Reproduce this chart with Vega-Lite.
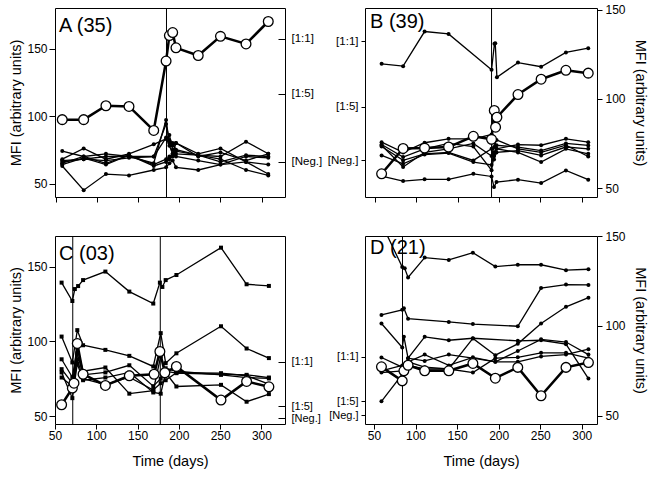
{
  "$schema": "https://vega.github.io/schema/vega-lite/v6.json",
  "background": "white",
  "padding": {"left": 8, "top": 3, "right": 2, "bottom": 2},
  "bounds": "flush",
  "columns": 2,
  "spacing": {"row": 39, "column": 80},
  "config": {
    "font": "Liberation Sans",
    "view": {"stroke": "black", "strokeWidth": 1},
    "axis": {"grid": false, "domain": false, "labelFont": "Liberation Sans", "labelFontSize": 12, "labelColor": "black", "tickColor": "black", "tickWidth": 1, "titleFont": "Liberation Sans", "titleFontSize": 14.5, "titleFontWeight": "normal", "titleColor": "black", "labelFlush": false, "labelOverlap": false, "labelBound": false},
    "title": {"font": "Liberation Sans", "fontSize": 20, "fontWeight": "normal", "color": "black", "anchor": "start", "frame": "group", "offset": -28, "baseline": "alphabetic"}
  },
  "datasets": {
    "boosts": [
      {"panel": "A", "day": 184.5},
      {"panel": "B", "day": 191},
      {"panel": "C", "day": 71.5},
      {"panel": "C", "day": 177.5},
      {"panel": "D", "day": 84.3}
    ],
    "levels": [
      {"panel": "A", "level": "[1:1]", "mfi": 157.4},
      {"panel": "A", "level": "[1:5]", "mfi": 116.3},
      {"panel": "A", "level": "[Neg.]", "mfi": 66.2},
      {"panel": "B", "level": "[1:1]", "mfi": 132.3},
      {"panel": "B", "level": "[1:5]", "mfi": 95.7},
      {"panel": "B", "level": "[Neg.]", "mfi": 65.5},
      {"panel": "C", "level": "[1:1]", "mfi": 86.3},
      {"panel": "C", "level": "[1:5]", "mfi": 56.5},
      {"panel": "C", "level": "[Neg.]", "mfi": 48.4},
      {"panel": "D", "level": "[1:1]", "mfi": 82.8},
      {"panel": "D", "level": "[1:5]", "mfi": 58.1},
      {"panel": "D", "level": "[Neg.]", "mfi": 50.4}
    ],
    "series": [
      {"panel":"A","id":"a1","kind":"dot","day":58,"mfi":74},{"panel":"A","id":"a1","kind":"dot","day":84,"mfi":70},{"panel":"A","id":"a1","kind":"dot","day":111,"mfi":72},{"panel":"A","id":"a1","kind":"dot","day":139,"mfi":70},{"panel":"A","id":"a1","kind":"dot","day":169,"mfi":65},{"panel":"A","id":"a1","kind":"dot","day":184,"mfi":97},{"panel":"A","id":"a1","kind":"dot","day":188,"mfi":80},{"panel":"A","id":"a1","kind":"dot","day":192,"mfi":78},{"panel":"A","id":"a1","kind":"dot","day":196,"mfi":80},{"panel":"A","id":"a1","kind":"dot","day":223,"mfi":72},{"panel":"A","id":"a1","kind":"dot","day":250,"mfi":76},{"panel":"A","id":"a1","kind":"dot","day":281,"mfi":66},{"panel":"A","id":"a1","kind":"dot","day":308,"mfi":57},
      {"panel":"A","id":"a2","kind":"dot","day":58,"mfi":68},{"panel":"A","id":"a2","kind":"dot","day":84,"mfi":76},{"panel":"A","id":"a2","kind":"dot","day":111,"mfi":68},{"panel":"A","id":"a2","kind":"dot","day":139,"mfi":72},{"panel":"A","id":"a2","kind":"dot","day":169,"mfi":79},{"panel":"A","id":"a2","kind":"dot","day":184,"mfi":83},{"panel":"A","id":"a2","kind":"dot","day":188,"mfi":86},{"panel":"A","id":"a2","kind":"dot","day":192,"mfi":75},{"panel":"A","id":"a2","kind":"dot","day":196,"mfi":72},{"panel":"A","id":"a2","kind":"dot","day":223,"mfi":71},{"panel":"A","id":"a2","kind":"dot","day":250,"mfi":70},{"panel":"A","id":"a2","kind":"dot","day":281,"mfi":81},{"panel":"A","id":"a2","kind":"dot","day":308,"mfi":72},
      {"panel":"A","id":"a3","kind":"dot","day":58,"mfi":67},{"panel":"A","id":"a3","kind":"dot","day":84,"mfi":68},{"panel":"A","id":"a3","kind":"dot","day":111,"mfi":67},{"panel":"A","id":"a3","kind":"dot","day":139,"mfi":69},{"panel":"A","id":"a3","kind":"dot","day":169,"mfi":70},{"panel":"A","id":"a3","kind":"dot","day":184,"mfi":94},{"panel":"A","id":"a3","kind":"dot","day":188,"mfi":82},{"panel":"A","id":"a3","kind":"dot","day":192,"mfi":80},{"panel":"A","id":"a3","kind":"dot","day":196,"mfi":75},{"panel":"A","id":"a3","kind":"dot","day":223,"mfi":71},{"panel":"A","id":"a3","kind":"dot","day":250,"mfi":66},{"panel":"A","id":"a3","kind":"dot","day":281,"mfi":71},{"panel":"A","id":"a3","kind":"dot","day":308,"mfi":70},
      {"panel":"A","id":"a4","kind":"dot","day":58,"mfi":65},{"panel":"A","id":"a4","kind":"dot","day":84,"mfi":70},{"panel":"A","id":"a4","kind":"dot","day":111,"mfi":65},{"panel":"A","id":"a4","kind":"dot","day":139,"mfi":71},{"panel":"A","id":"a4","kind":"dot","day":169,"mfi":64},{"panel":"A","id":"a4","kind":"dot","day":184,"mfi":68},{"panel":"A","id":"a4","kind":"dot","day":188,"mfi":70},{"panel":"A","id":"a4","kind":"dot","day":192,"mfi":72},{"panel":"A","id":"a4","kind":"dot","day":196,"mfi":70},{"panel":"A","id":"a4","kind":"dot","day":223,"mfi":67},{"panel":"A","id":"a4","kind":"dot","day":250,"mfi":64},{"panel":"A","id":"a4","kind":"dot","day":281,"mfi":70},{"panel":"A","id":"a4","kind":"dot","day":308,"mfi":69},
      {"panel":"A","id":"a5","kind":"dot","day":58,"mfi":64},{"panel":"A","id":"a5","kind":"dot","day":84,"mfi":69},{"panel":"A","id":"a5","kind":"dot","day":111,"mfi":64},{"panel":"A","id":"a5","kind":"dot","day":139,"mfi":71},{"panel":"A","id":"a5","kind":"dot","day":169,"mfi":63},{"panel":"A","id":"a5","kind":"dot","day":184,"mfi":66},{"panel":"A","id":"a5","kind":"dot","day":188,"mfi":68},{"panel":"A","id":"a5","kind":"dot","day":192,"mfi":70},{"panel":"A","id":"a5","kind":"dot","day":196,"mfi":74},{"panel":"A","id":"a5","kind":"dot","day":223,"mfi":71},{"panel":"A","id":"a5","kind":"dot","day":250,"mfi":68},{"panel":"A","id":"a5","kind":"dot","day":281,"mfi":60},{"panel":"A","id":"a5","kind":"dot","day":308,"mfi":56},
      {"panel":"A","id":"a6","kind":"dot","day":58,"mfi":63},{"panel":"A","id":"a6","kind":"dot","day":84,"mfi":45},{"panel":"A","id":"a6","kind":"dot","day":111,"mfi":57},{"panel":"A","id":"a6","kind":"dot","day":139,"mfi":56},{"panel":"A","id":"a6","kind":"dot","day":169,"mfi":60},{"panel":"A","id":"a6","kind":"dot","day":184,"mfi":62},{"panel":"A","id":"a6","kind":"dot","day":188,"mfi":65},{"panel":"A","id":"a6","kind":"dot","day":192,"mfi":67},{"panel":"A","id":"a6","kind":"dot","day":196,"mfi":62},{"panel":"A","id":"a6","kind":"dot","day":223,"mfi":60},{"panel":"A","id":"a6","kind":"dot","day":250,"mfi":64},{"panel":"A","id":"a6","kind":"dot","day":281,"mfi":66},{"panel":"A","id":"a6","kind":"dot","day":308,"mfi":64},
      {"panel":"A","id":"a7","kind":"dot","day":58,"mfi":66},{"panel":"A","id":"a7","kind":"dot","day":84,"mfi":68},{"panel":"A","id":"a7","kind":"dot","day":111,"mfi":70},{"panel":"A","id":"a7","kind":"dot","day":139,"mfi":70},{"panel":"A","id":"a7","kind":"dot","day":169,"mfi":70},{"panel":"A","id":"a7","kind":"dot","day":184,"mfi":84},{"panel":"A","id":"a7","kind":"dot","day":188,"mfi":78},{"panel":"A","id":"a7","kind":"dot","day":192,"mfi":72},{"panel":"A","id":"a7","kind":"dot","day":196,"mfi":80},{"panel":"A","id":"a7","kind":"dot","day":223,"mfi":70},{"panel":"A","id":"a7","kind":"dot","day":250,"mfi":73},{"panel":"A","id":"a7","kind":"dot","day":281,"mfi":67},{"panel":"A","id":"a7","kind":"dot","day":308,"mfi":72},
      {"panel":"A","id":"aM","kind":"circle","day":58,"mfi":97.3},{"panel":"A","id":"aM","kind":"circle","day":84,"mfi":97.3},{"panel":"A","id":"aM","kind":"circle","day":111,"mfi":107.6},{"panel":"A","id":"aM","kind":"circle","day":139,"mfi":107.1},{"panel":"A","id":"aM","kind":"circle","day":169,"mfi":89.3},{"panel":"A","id":"aM","kind":"circle","day":184,"mfi":140.7},{"panel":"A","id":"aM","kind":"circle","day":188,"mfi":159.6},{"panel":"A","id":"aM","kind":"circle","day":192,"mfi":161.8},{"panel":"A","id":"aM","kind":"circle","day":196,"mfi":150.5},{"panel":"A","id":"aM","kind":"circle","day":223,"mfi":144.8},{"panel":"A","id":"aM","kind":"circle","day":250,"mfi":159},{"panel":"A","id":"aM","kind":"circle","day":281,"mfi":153.4},{"panel":"A","id":"aM","kind":"circle","day":308,"mfi":170},

      {"panel":"B","id":"b1","kind":"dot","day":58,"mfi":119.6},{"panel":"B","id":"b1","kind":"dot","day":84,"mfi":118.3},{"panel":"B","id":"b1","kind":"dot","day":110,"mfi":137.7},{"panel":"B","id":"b1","kind":"dot","day":139,"mfi":136.4},{"panel":"B","id":"b1","kind":"dot","day":191,"mfi":116.3},{"panel":"B","id":"b1","kind":"dot","day":194.5,"mfi":130.8},{"panel":"B","id":"b1","kind":"dot","day":195.5,"mfi":131.1},{"panel":"B","id":"b1","kind":"dot","day":197.5,"mfi":112.1},{"panel":"B","id":"b1","kind":"dot","day":223,"mfi":120.3},{"panel":"B","id":"b1","kind":"dot","day":251,"mfi":118},{"panel":"B","id":"b1","kind":"dot","day":281,"mfi":126},{"panel":"B","id":"b1","kind":"dot","day":308,"mfi":128.4},
      {"panel":"B","id":"b2","kind":"dot","day":58,"mfi":56.7},{"panel":"B","id":"b2","kind":"dot","day":84,"mfi":53.9},{"panel":"B","id":"b2","kind":"dot","day":110,"mfi":54.9},{"panel":"B","id":"b2","kind":"dot","day":139,"mfi":54.9},{"panel":"B","id":"b2","kind":"dot","day":169,"mfi":58},{"panel":"B","id":"b2","kind":"dot","day":191,"mfi":56.5},{"panel":"B","id":"b2","kind":"dot","day":194,"mfi":50.6},{"panel":"B","id":"b2","kind":"dot","day":197,"mfi":53.4},{"panel":"B","id":"b2","kind":"dot","day":223,"mfi":54.7},{"panel":"B","id":"b2","kind":"dot","day":251,"mfi":52.8},{"panel":"B","id":"b2","kind":"dot","day":281,"mfi":59.9},{"panel":"B","id":"b2","kind":"dot","day":308,"mfi":54.7},
      {"panel":"B","id":"b3","kind":"dot","day":58,"mfi":75.7},{"panel":"B","id":"b3","kind":"dot","day":84,"mfi":70},{"panel":"B","id":"b3","kind":"dot","day":110,"mfi":75.4},{"panel":"B","id":"b3","kind":"dot","day":139,"mfi":77.6},{"panel":"B","id":"b3","kind":"dot","day":169,"mfi":77.6},{"panel":"B","id":"b3","kind":"dot","day":191,"mfi":80},{"panel":"B","id":"b3","kind":"dot","day":194,"mfi":76},{"panel":"B","id":"b3","kind":"dot","day":197,"mfi":72},{"panel":"B","id":"b3","kind":"dot","day":223,"mfi":74.4},{"panel":"B","id":"b3","kind":"dot","day":251,"mfi":74},{"panel":"B","id":"b3","kind":"dot","day":281,"mfi":77.6},{"panel":"B","id":"b3","kind":"dot","day":308,"mfi":75.7},
      {"panel":"B","id":"b4","kind":"dot","day":58,"mfi":74.4},{"panel":"B","id":"b4","kind":"dot","day":84,"mfi":67.4},{"panel":"B","id":"b4","kind":"dot","day":110,"mfi":72},{"panel":"B","id":"b4","kind":"dot","day":139,"mfi":75},{"panel":"B","id":"b4","kind":"dot","day":169,"mfi":73.3},{"panel":"B","id":"b4","kind":"dot","day":191,"mfi":60},{"panel":"B","id":"b4","kind":"dot","day":194,"mfi":68},{"panel":"B","id":"b4","kind":"dot","day":197,"mfi":74},{"panel":"B","id":"b4","kind":"dot","day":223,"mfi":73},{"panel":"B","id":"b4","kind":"dot","day":251,"mfi":71},{"panel":"B","id":"b4","kind":"dot","day":281,"mfi":75},{"panel":"B","id":"b4","kind":"dot","day":308,"mfi":73.9},
      {"panel":"B","id":"b5","kind":"dot","day":58,"mfi":73.3},{"panel":"B","id":"b5","kind":"dot","day":84,"mfi":65.5},{"panel":"B","id":"b5","kind":"dot","day":110,"mfi":69.2},{"panel":"B","id":"b5","kind":"dot","day":139,"mfi":70},{"panel":"B","id":"b5","kind":"dot","day":169,"mfi":65.5},{"panel":"B","id":"b5","kind":"dot","day":191,"mfi":72},{"panel":"B","id":"b5","kind":"dot","day":194,"mfi":66},{"panel":"B","id":"b5","kind":"dot","day":197,"mfi":70},{"panel":"B","id":"b5","kind":"dot","day":223,"mfi":71},{"panel":"B","id":"b5","kind":"dot","day":251,"mfi":68.3},{"panel":"B","id":"b5","kind":"dot","day":281,"mfi":73},{"panel":"B","id":"b5","kind":"dot","day":308,"mfi":72},
      {"panel":"B","id":"b6","kind":"dot","day":58,"mfi":68.3},{"panel":"B","id":"b6","kind":"dot","day":84,"mfi":63.6},{"panel":"B","id":"b6","kind":"dot","day":110,"mfi":68.8},{"panel":"B","id":"b6","kind":"dot","day":139,"mfi":69.6},{"panel":"B","id":"b6","kind":"dot","day":169,"mfi":64.6},{"panel":"B","id":"b6","kind":"dot","day":191,"mfi":63},{"panel":"B","id":"b6","kind":"dot","day":194,"mfi":70},{"panel":"B","id":"b6","kind":"dot","day":197,"mfi":72},{"panel":"B","id":"b6","kind":"dot","day":223,"mfi":70},{"panel":"B","id":"b6","kind":"dot","day":251,"mfi":64.6},{"panel":"B","id":"b6","kind":"dot","day":281,"mfi":72},{"panel":"B","id":"b6","kind":"dot","day":308,"mfi":69.2},
      {"panel":"B","id":"b7","kind":"dot","day":58,"mfi":74},{"panel":"B","id":"b7","kind":"dot","day":84,"mfi":61.8},{"panel":"B","id":"b7","kind":"dot","day":110,"mfi":70},{"panel":"B","id":"b7","kind":"dot","day":139,"mfi":72},{"panel":"B","id":"b7","kind":"dot","day":169,"mfi":75},{"panel":"B","id":"b7","kind":"dot","day":191,"mfi":68},{"panel":"B","id":"b7","kind":"dot","day":194,"mfi":73},{"panel":"B","id":"b7","kind":"dot","day":197,"mfi":77},{"panel":"B","id":"b7","kind":"dot","day":223,"mfi":72},{"panel":"B","id":"b7","kind":"dot","day":251,"mfi":70},{"panel":"B","id":"b7","kind":"dot","day":281,"mfi":74},{"panel":"B","id":"b7","kind":"dot","day":308,"mfi":67.7},
      {"panel":"B","id":"bM","kind":"circle","day":58,"mfi":58},{"panel":"B","id":"bM","kind":"circle","day":84,"mfi":72.2},{"panel":"B","id":"bM","kind":"circle","day":110,"mfi":72.4},{"panel":"B","id":"bM","kind":"circle","day":139,"mfi":73},{"panel":"B","id":"bM","kind":"circle","day":169,"mfi":79},{"panel":"B","id":"bM","kind":"circle","day":191,"mfi":77.3},{"panel":"B","id":"bM","kind":"circle","day":194.3,"mfi":93.5},{"panel":"B","id":"bM","kind":"circle","day":195.9,"mfi":84.1},{"panel":"B","id":"bM","kind":"circle","day":197.5,"mfi":89.7},{"panel":"B","id":"bM","kind":"circle","day":223,"mfi":102.4},{"panel":"B","id":"bM","kind":"circle","day":251,"mfi":111},{"panel":"B","id":"bM","kind":"circle","day":281,"mfi":116},{"panel":"B","id":"bM","kind":"circle","day":308,"mfi":114.4},

      {"panel":"C","id":"c1","kind":"dot","day":58,"mfi":139.3},{"panel":"C","id":"c1","kind":"dot","day":71,"mfi":127},{"panel":"C","id":"c1","kind":"dot","day":74,"mfi":135},{"panel":"C","id":"c1","kind":"dot","day":78,"mfi":137},{"panel":"C","id":"c1","kind":"dot","day":84,"mfi":141},{"panel":"C","id":"c1","kind":"dot","day":111,"mfi":146.7},{"panel":"C","id":"c1","kind":"dot","day":140,"mfi":133.3},{"panel":"C","id":"c1","kind":"dot","day":169,"mfi":125.3},{"panel":"C","id":"c1","kind":"dot","day":177,"mfi":139.3},{"panel":"C","id":"c1","kind":"dot","day":180,"mfi":136.4},{"panel":"C","id":"c1","kind":"dot","day":184,"mfi":141},{"panel":"C","id":"c1","kind":"dot","day":197,"mfi":144.4},{"panel":"C","id":"c1","kind":"dot","day":251,"mfi":162.7},{"panel":"C","id":"c1","kind":"dot","day":282,"mfi":138.2},{"panel":"C","id":"c1","kind":"dot","day":309,"mfi":137.1},
      {"panel":"C","id":"c2","kind":"dot","day":58,"mfi":103.2},{"panel":"C","id":"c2","kind":"dot","day":71,"mfi":85.9},{"panel":"C","id":"c2","kind":"dot","day":77,"mfi":107.5},{"panel":"C","id":"c2","kind":"dot","day":84,"mfi":97.4},{"panel":"C","id":"c2","kind":"dot","day":111,"mfi":94.3},{"panel":"C","id":"c2","kind":"dot","day":140,"mfi":90.3},{"panel":"C","id":"c2","kind":"dot","day":169,"mfi":83.2},{"panel":"C","id":"c2","kind":"dot","day":178,"mfi":105.5},{"panel":"C","id":"c2","kind":"dot","day":184,"mfi":85.4},{"panel":"C","id":"c2","kind":"dot","day":197,"mfi":92},{"panel":"C","id":"c2","kind":"dot","day":251,"mfi":110.1},{"panel":"C","id":"c2","kind":"dot","day":282,"mfi":95.2},{"panel":"C","id":"c2","kind":"dot","day":309,"mfi":88.8},
      {"panel":"C","id":"c3","kind":"dot","day":58,"mfi":88},{"panel":"C","id":"c3","kind":"dot","day":71,"mfi":76},{"panel":"C","id":"c3","kind":"dot","day":77,"mfi":96},{"panel":"C","id":"c3","kind":"dot","day":84,"mfi":80},{"panel":"C","id":"c3","kind":"dot","day":111,"mfi":82.5},{"panel":"C","id":"c3","kind":"dot","day":140,"mfi":65},{"panel":"C","id":"c3","kind":"dot","day":169,"mfi":67},{"panel":"C","id":"c3","kind":"dot","day":178,"mfi":90},{"panel":"C","id":"c3","kind":"dot","day":184,"mfi":80},{"panel":"C","id":"c3","kind":"dot","day":197,"mfi":78.7},{"panel":"C","id":"c3","kind":"dot","day":251,"mfi":78},{"panel":"C","id":"c3","kind":"dot","day":282,"mfi":77.6},{"panel":"C","id":"c3","kind":"dot","day":309,"mfi":75.8},
      {"panel":"C","id":"c4","kind":"dot","day":58,"mfi":81.4},{"panel":"C","id":"c4","kind":"dot","day":71,"mfi":72},{"panel":"C","id":"c4","kind":"dot","day":77,"mfi":92},{"panel":"C","id":"c4","kind":"dot","day":84,"mfi":77.6},{"panel":"C","id":"c4","kind":"dot","day":111,"mfi":79.2},{"panel":"C","id":"c4","kind":"dot","day":140,"mfi":84},{"panel":"C","id":"c4","kind":"dot","day":169,"mfi":70},{"panel":"C","id":"c4","kind":"dot","day":178,"mfi":75},{"panel":"C","id":"c4","kind":"dot","day":184,"mfi":82},{"panel":"C","id":"c4","kind":"dot","day":197,"mfi":80},{"panel":"C","id":"c4","kind":"dot","day":251,"mfi":77.6},{"panel":"C","id":"c4","kind":"dot","day":282,"mfi":75.8},{"panel":"C","id":"c4","kind":"dot","day":309,"mfi":75.2},
      {"panel":"C","id":"c5","kind":"dot","day":58,"mfi":79.2},{"panel":"C","id":"c5","kind":"dot","day":71,"mfi":62},{"panel":"C","id":"c5","kind":"dot","day":77,"mfi":85},{"panel":"C","id":"c5","kind":"dot","day":84,"mfi":74},{"panel":"C","id":"c5","kind":"dot","day":111,"mfi":75.8},{"panel":"C","id":"c5","kind":"dot","day":140,"mfi":79.2},{"panel":"C","id":"c5","kind":"dot","day":169,"mfi":65.8},{"panel":"C","id":"c5","kind":"dot","day":178,"mfi":65},{"panel":"C","id":"c5","kind":"dot","day":184,"mfi":79},{"panel":"C","id":"c5","kind":"dot","day":197,"mfi":69.8},{"panel":"C","id":"c5","kind":"dot","day":251,"mfi":70.9},{"panel":"C","id":"c5","kind":"dot","day":282,"mfi":59.6},{"panel":"C","id":"c5","kind":"dot","day":309,"mfi":64.7},
      {"panel":"C","id":"c6","kind":"dot","day":58,"mfi":75.8},{"panel":"C","id":"c6","kind":"dot","day":71,"mfi":70},{"panel":"C","id":"c6","kind":"dot","day":77,"mfi":88},{"panel":"C","id":"c6","kind":"dot","day":84,"mfi":75},{"panel":"C","id":"c6","kind":"dot","day":111,"mfi":71},{"panel":"C","id":"c6","kind":"dot","day":140,"mfi":76},{"panel":"C","id":"c6","kind":"dot","day":169,"mfi":67.4},{"panel":"C","id":"c6","kind":"dot","day":178,"mfi":72},{"panel":"C","id":"c6","kind":"dot","day":184,"mfi":74},{"panel":"C","id":"c6","kind":"dot","day":197,"mfi":79},{"panel":"C","id":"c6","kind":"dot","day":251,"mfi":78.7},{"panel":"C","id":"c6","kind":"dot","day":282,"mfi":77},{"panel":"C","id":"c6","kind":"dot","day":309,"mfi":71.4},
      {"panel":"C","id":"cM","kind":"circle","day":58,"mfi":57.6},{"panel":"C","id":"cM","kind":"circle","day":71,"mfi":68.7},{"panel":"C","id":"cM","kind":"circle","day":73,"mfi":72},{"panel":"C","id":"cM","kind":"circle","day":77,"mfi":98.6},{"panel":"C","id":"cM","kind":"circle","day":84,"mfi":78},{"panel":"C","id":"cM","kind":"circle","day":111,"mfi":70.5},{"panel":"C","id":"cM","kind":"circle","day":140,"mfi":77},{"panel":"C","id":"cM","kind":"circle","day":170,"mfi":78},{"panel":"C","id":"cM","kind":"circle","day":177,"mfi":93.2},{"panel":"C","id":"cM","kind":"circle","day":183,"mfi":79},{"panel":"C","id":"cM","kind":"circle","day":197,"mfi":83.2},{"panel":"C","id":"cM","kind":"circle","day":251,"mfi":60.7},{"panel":"C","id":"cM","kind":"circle","day":282,"mfi":73.2},{"panel":"C","id":"cM","kind":"circle","day":309,"mfi":69.6},

      {"panel":"D","id":"d1","kind":"dot","day":59,"mfi":157},{"panel":"D","id":"d1","kind":"dot","day":84,"mfi":132.8},{"panel":"D","id":"d1","kind":"dot","day":87,"mfi":132},{"panel":"D","id":"d1","kind":"dot","day":91,"mfi":126.9},{"panel":"D","id":"d1","kind":"dot","day":111,"mfi":138},{"panel":"D","id":"d1","kind":"dot","day":140,"mfi":136.7},{"panel":"D","id":"d1","kind":"dot","day":169,"mfi":140.7},{"panel":"D","id":"d1","kind":"dot","day":196,"mfi":133},{"panel":"D","id":"d1","kind":"dot","day":223,"mfi":134},{"panel":"D","id":"d1","kind":"dot","day":251,"mfi":134},{"panel":"D","id":"d1","kind":"dot","day":281,"mfi":131},{"panel":"D","id":"d1","kind":"dot","day":308,"mfi":131.5},
      {"panel":"D","id":"d2","kind":"dot","day":59,"mfi":106.1},{"panel":"D","id":"d2","kind":"dot","day":84,"mfi":108.9},{"panel":"D","id":"d2","kind":"dot","day":86,"mfi":109.8},{"panel":"D","id":"d2","kind":"dot","day":91,"mfi":104},{"panel":"D","id":"d2","kind":"dot","day":140,"mfi":102.2},{"panel":"D","id":"d2","kind":"dot","day":169,"mfi":101},{"panel":"D","id":"d2","kind":"dot","day":223,"mfi":99.8},{"panel":"D","id":"d2","kind":"dot","day":251,"mfi":121},{"panel":"D","id":"d2","kind":"dot","day":281,"mfi":123},{"panel":"D","id":"d2","kind":"dot","day":308,"mfi":122.8},
      {"panel":"D","id":"d3","kind":"dot","day":59,"mfi":101.3},{"panel":"D","id":"d3","kind":"dot","day":84,"mfi":88},{"panel":"D","id":"d3","kind":"dot","day":86,"mfi":94},{"panel":"D","id":"d3","kind":"dot","day":91,"mfi":82},{"panel":"D","id":"d3","kind":"dot","day":111,"mfi":93.9},{"panel":"D","id":"d3","kind":"dot","day":140,"mfi":92},{"panel":"D","id":"d3","kind":"dot","day":169,"mfi":93.1},{"panel":"D","id":"d3","kind":"dot","day":223,"mfi":91.7},{"panel":"D","id":"d3","kind":"dot","day":251,"mfi":92},{"panel":"D","id":"d3","kind":"dot","day":281,"mfi":89.8},{"panel":"D","id":"d3","kind":"dot","day":308,"mfi":70.7},
      {"panel":"D","id":"d4","kind":"dot","day":59,"mfi":58},{"panel":"D","id":"d4","kind":"dot","day":84,"mfi":73},{"panel":"D","id":"d4","kind":"dot","day":91,"mfi":80},{"panel":"D","id":"d4","kind":"dot","day":111,"mfi":77},{"panel":"D","id":"d4","kind":"dot","day":140,"mfi":76},{"panel":"D","id":"d4","kind":"dot","day":169,"mfi":93},{"panel":"D","id":"d4","kind":"dot","day":196,"mfi":83.7},{"panel":"D","id":"d4","kind":"dot","day":223,"mfi":90},{"panel":"D","id":"d4","kind":"dot","day":251,"mfi":101.3},{"panel":"D","id":"d4","kind":"dot","day":281,"mfi":110.6},{"panel":"D","id":"d4","kind":"dot","day":308,"mfi":115.7},
      {"panel":"D","id":"d5","kind":"dot","day":59,"mfi":82.4},{"panel":"D","id":"d5","kind":"dot","day":84,"mfi":77},{"panel":"D","id":"d5","kind":"dot","day":91,"mfi":80},{"panel":"D","id":"d5","kind":"dot","day":111,"mfi":84},{"panel":"D","id":"d5","kind":"dot","day":140,"mfi":78},{"panel":"D","id":"d5","kind":"dot","day":169,"mfi":82.5},{"panel":"D","id":"d5","kind":"dot","day":196,"mfi":80},{"panel":"D","id":"d5","kind":"dot","day":223,"mfi":86},{"panel":"D","id":"d5","kind":"dot","day":251,"mfi":92.5},{"panel":"D","id":"d5","kind":"dot","day":281,"mfi":91},{"panel":"D","id":"d5","kind":"dot","day":308,"mfi":84},
      {"panel":"D","id":"d6","kind":"dot","day":59,"mfi":74},{"panel":"D","id":"d6","kind":"dot","day":84,"mfi":75},{"panel":"D","id":"d6","kind":"dot","day":91,"mfi":82},{"panel":"D","id":"d6","kind":"dot","day":111,"mfi":80.5},{"panel":"D","id":"d6","kind":"dot","day":140,"mfi":84},{"panel":"D","id":"d6","kind":"dot","day":169,"mfi":82},{"panel":"D","id":"d6","kind":"dot","day":196,"mfi":80},{"panel":"D","id":"d6","kind":"dot","day":223,"mfi":80},{"panel":"D","id":"d6","kind":"dot","day":251,"mfi":83},{"panel":"D","id":"d6","kind":"dot","day":281,"mfi":84},{"panel":"D","id":"d6","kind":"dot","day":308,"mfi":87},
      {"panel":"D","id":"d7","kind":"dot","day":59,"mfi":75},{"panel":"D","id":"d7","kind":"dot","day":84,"mfi":78},{"panel":"D","id":"d7","kind":"dot","day":91,"mfi":78},{"panel":"D","id":"d7","kind":"dot","day":111,"mfi":76},{"panel":"D","id":"d7","kind":"dot","day":140,"mfi":76},{"panel":"D","id":"d7","kind":"dot","day":169,"mfi":74},{"panel":"D","id":"d7","kind":"dot","day":196,"mfi":82},{"panel":"D","id":"d7","kind":"dot","day":223,"mfi":82.5},{"panel":"D","id":"d7","kind":"dot","day":251,"mfi":85},{"panel":"D","id":"d7","kind":"dot","day":281,"mfi":85},{"panel":"D","id":"d7","kind":"dot","day":308,"mfi":82},
      {"panel":"D","id":"dM","kind":"circle","day":59,"mfi":77.2},{"panel":"D","id":"dM","kind":"circle","day":84,"mfi":69.4},{"panel":"D","id":"dM","kind":"circle","day":86,"mfi":75},{"panel":"D","id":"dM","kind":"circle","day":91,"mfi":78.1},{"panel":"D","id":"dM","kind":"circle","day":111,"mfi":75},{"panel":"D","id":"dM","kind":"circle","day":140,"mfi":75},{"panel":"D","id":"dM","kind":"circle","day":169,"mfi":79.1},{"panel":"D","id":"dM","kind":"circle","day":196,"mfi":70.9},{"panel":"D","id":"dM","kind":"circle","day":223,"mfi":76.9},{"panel":"D","id":"dM","kind":"circle","day":251,"mfi":61.1},{"panel":"D","id":"dM","kind":"circle","day":281,"mfi":76.9},{"panel":"D","id":"dM","kind":"circle","day":308,"mfi":79.6}
    ]
  },
  "concat": [
    {
      "width": 230, "height": 189,
      "title": {"text": "A (35)", "dx": 4},
      "layer": [
        {"data": {"name": "boosts"}, "transform": [{"filter": "datum.panel === 'A'"}],
         "mark": {"type": "rule", "color": "black", "strokeWidth": 1},
         "encoding": {"x": {"field": "day", "type": "quantitative", "scale": {"domain": [49.2, 328.3], "nice": false, "zero": false}, "axis": {"values": [50,100,150,200,250,300], "labels": false, "title": null, "tickSize": 5}}}},
        {"data": {"name": "series"}, "transform": [{"filter": "datum.panel === 'A' && datum.kind === 'dot'"}],
         "mark": {"type": "line", "color": "black", "strokeWidth": 1.3, "clip": true, "point": {"filled": true, "color": "black", "size": 16, "clip": true}},
         "encoding": {
           "x": {"field": "day", "type": "quantitative", "scale": {"domain": [49.2, 328.3], "nice": false, "zero": false}, "axis": {"values": [50,100,150,200,250,300], "labels": false, "title": null, "tickSize": 5}},
           "y": {"field": "mfi", "type": "quantitative", "scale": {"domain": [40, 180], "nice": false, "zero": false}, "axis": {"orient": "left", "values": [50,100,150], "title": "MFI (arbitrary units)", "tickSize": 6, "labelPadding": 2, "titlePadding": 3}},
           "detail": {"field": "id"}}},
        {"data": {"name": "series"}, "transform": [{"filter": "datum.panel === 'A' && datum.kind === 'circle'"}],
         "mark": {"type": "line", "color": "black", "strokeWidth": 2.5, "clip": true, "point": {"filled": true, "fill": "white", "stroke": "black", "strokeWidth": 1.3, "size": 95, "clip": true}},
         "encoding": {
           "x": {"field": "day", "type": "quantitative", "scale": {"domain": [49.2, 328.3], "nice": false, "zero": false}, "axis": {"values": [50,100,150,200,250,300], "labels": false, "title": null, "tickSize": 5}},
           "y": {"field": "mfi", "type": "quantitative", "scale": {"domain": [40, 180], "nice": false, "zero": false}, "axis": null}}},
        {"data": {"name": "levels"}, "transform": [{"filter": "datum.panel === 'A'"}],
         "mark": {"type": "point", "opacity": 0},
         "encoding": {
           "y": {"field": "mfi", "type": "quantitative", "scale": {"domain": [40, 180], "nice": false, "zero": false}, "axis": {"orient": "right", "values": [157.4, 116.3, 66.2], "labelExpr": "datum.value > 140 ? '[1:1]' : (datum.value > 90 ? '[1:5]' : '[Neg.]')", "title": null, "tickSize": -7, "labelPadding": 13, "labelFontSize": 11.5}}}}
      ],
      "resolve": {"scale": {"y": "independent"}, "axis": {"y": "independent"}}
    },
    {
      "width": 232, "height": 189,
      "title": {"text": "B (39)", "dx": 5},
      "layer": [
        {"data": {"name": "boosts"}, "transform": [{"filter": "datum.panel === 'B'"}],
         "mark": {"type": "rule", "color": "black", "strokeWidth": 1},
         "encoding": {"x": {"field": "day", "type": "quantitative", "scale": {"domain": [37.9, 318.6], "nice": false, "zero": false}, "axis": {"values": [50,100,150,200,250,300], "labels": false, "title": null, "tickSize": 5}}}},
        {"data": {"name": "series"}, "transform": [{"filter": "datum.panel === 'B' && datum.kind === 'dot'"}],
         "mark": {"type": "line", "color": "black", "strokeWidth": 1.3, "clip": true, "point": {"filled": true, "color": "black", "size": 16, "clip": true}},
         "encoding": {
           "x": {"field": "day", "type": "quantitative", "scale": {"domain": [37.9, 318.6], "nice": false, "zero": false}, "axis": {"values": [50,100,150,200,250,300], "labels": false, "title": null, "tickSize": 5}},
           "y": {"field": "mfi", "type": "quantitative", "scale": {"domain": [45, 150.9], "nice": false, "zero": false}, "axis": {"orient": "right", "values": [50,100,150], "title": "MFI (arbitrary units)", "tickSize": 5, "labelPadding": 3, "titlePadding": 7}},
           "detail": {"field": "id"}}},
        {"data": {"name": "series"}, "transform": [{"filter": "datum.panel === 'B' && datum.kind === 'circle'"}],
         "mark": {"type": "line", "color": "black", "strokeWidth": 2.5, "clip": true, "point": {"filled": true, "fill": "white", "stroke": "black", "strokeWidth": 1.3, "size": 95, "clip": true}},
         "encoding": {
           "x": {"field": "day", "type": "quantitative", "scale": {"domain": [37.9, 318.6], "nice": false, "zero": false}, "axis": {"values": [50,100,150,200,250,300], "labels": false, "title": null, "tickSize": 5}},
           "y": {"field": "mfi", "type": "quantitative", "scale": {"domain": [45, 150.9], "nice": false, "zero": false}, "axis": null}}},
        {"data": {"name": "levels"}, "transform": [{"filter": "datum.panel === 'B'"}],
         "mark": {"type": "point", "opacity": 0},
         "encoding": {
           "y": {"field": "mfi", "type": "quantitative", "scale": {"domain": [45, 150.9], "nice": false, "zero": false}, "axis": {"orient": "left", "values": [132.3, 95.7, 65.5], "labelExpr": "datum.value > 120 ? '[1:1]' : (datum.value > 80 ? '[1:5]' : '[Neg.]')", "title": null, "tickSize": 4, "labelPadding": 3, "labelFontSize": 11.5}}}}
      ],
      "resolve": {"scale": {"y": "independent"}, "axis": {"y": "independent"}}
    },
    {
      "width": 230, "height": 188,
      "title": {"text": "C (03)", "dx": 4},
      "layer": [
        {"data": {"name": "boosts"}, "transform": [{"filter": "datum.panel === 'C'"}],
         "mark": {"type": "rule", "color": "black", "strokeWidth": 1},
         "encoding": {"x": {"field": "day", "type": "quantitative", "scale": {"domain": [50, 328.5], "nice": false, "zero": false}, "axis": {"values": [50,100,150,200,250,300], "title": "Time (days)", "tickSize": 5, "labelPadding": 1, "titlePadding": 13}}}},
        {"data": {"name": "series"}, "transform": [{"filter": "datum.panel === 'C' && datum.kind === 'dot'"}],
         "mark": {"type": "line", "color": "black", "strokeWidth": 1.3, "clip": true, "point": {"filled": true, "color": "black", "shape": "square", "size": 16, "clip": true}},
         "encoding": {
           "x": {"field": "day", "type": "quantitative", "scale": {"domain": [50, 328.5], "nice": false, "zero": false}, "axis": {"values": [50,100,150,200,250,300], "title": "Time (days)", "tickSize": 5, "labelPadding": 1, "titlePadding": 13}},
           "y": {"field": "mfi", "type": "quantitative", "scale": {"domain": [44.7, 170.5], "nice": false, "zero": false}, "axis": {"orient": "left", "values": [50,100,150], "title": "MFI (arbitrary units)", "tickSize": 6, "labelPadding": 2, "titlePadding": 3}},
           "detail": {"field": "id"}}},
        {"data": {"name": "series"}, "transform": [{"filter": "datum.panel === 'C' && datum.kind === 'circle'"}],
         "mark": {"type": "line", "color": "black", "strokeWidth": 2.5, "clip": true, "point": {"filled": true, "fill": "white", "stroke": "black", "strokeWidth": 1.3, "size": 95, "clip": true}},
         "encoding": {
           "x": {"field": "day", "type": "quantitative", "scale": {"domain": [50, 328.5], "nice": false, "zero": false}, "axis": {"values": [50,100,150,200,250,300], "title": "Time (days)", "tickSize": 5, "labelPadding": 1, "titlePadding": 13}},
           "y": {"field": "mfi", "type": "quantitative", "scale": {"domain": [44.7, 170.5], "nice": false, "zero": false}, "axis": null}}},
        {"data": {"name": "levels"}, "transform": [{"filter": "datum.panel === 'C'"}],
         "mark": {"type": "point", "opacity": 0},
         "encoding": {
           "y": {"field": "mfi", "type": "quantitative", "scale": {"domain": [44.7, 170.5], "nice": false, "zero": false}, "axis": {"orient": "right", "values": [86.3, 56.5, 48.4], "labelExpr": "datum.value > 80 ? '[1:1]' : (datum.value > 52 ? '[1:5]' : '[Neg.]')", "title": null, "tickSize": -7, "labelPadding": 13, "labelFontSize": 11}}}}
      ],
      "resolve": {"scale": {"y": "independent"}, "axis": {"y": "independent"}}
    },
    {
      "width": 232, "height": 188,
      "title": {"text": "D (21)", "dx": 5},
      "layer": [
        {"data": {"name": "boosts"}, "transform": [{"filter": "datum.panel === 'D'"}],
         "mark": {"type": "rule", "color": "black", "strokeWidth": 1},
         "encoding": {"x": {"field": "day", "type": "quantitative", "scale": {"domain": [39.2, 318.3], "nice": false, "zero": false}, "axis": {"values": [50,100,150,200,250,300], "title": "Time (days)", "tickSize": 5, "labelPadding": 1, "titlePadding": 13}}}},
        {"data": {"name": "series"}, "transform": [{"filter": "datum.panel === 'D' && datum.kind === 'dot'"}],
         "mark": {"type": "line", "color": "black", "strokeWidth": 1.3, "clip": true, "point": {"filled": true, "color": "black", "size": 16, "clip": true}},
         "encoding": {
           "x": {"field": "day", "type": "quantitative", "scale": {"domain": [39.2, 318.3], "nice": false, "zero": false}, "axis": {"values": [50,100,150,200,250,300], "title": "Time (days)", "tickSize": 5, "labelPadding": 1, "titlePadding": 13}},
           "y": {"field": "mfi", "type": "quantitative", "scale": {"domain": [45.4, 150], "nice": false, "zero": false}, "axis": {"orient": "right", "values": [50,100,150], "title": "MFI (arbitrary units)", "tickSize": 5, "labelPadding": 3, "titlePadding": 7}},
           "detail": {"field": "id"}}},
        {"data": {"name": "series"}, "transform": [{"filter": "datum.panel === 'D' && datum.kind === 'circle'"}],
         "mark": {"type": "line", "color": "black", "strokeWidth": 2.5, "clip": true, "point": {"filled": true, "fill": "white", "stroke": "black", "strokeWidth": 1.3, "size": 95, "clip": true}},
         "encoding": {
           "x": {"field": "day", "type": "quantitative", "scale": {"domain": [39.2, 318.3], "nice": false, "zero": false}, "axis": {"values": [50,100,150,200,250,300], "title": "Time (days)", "tickSize": 5, "labelPadding": 1, "titlePadding": 13}},
           "y": {"field": "mfi", "type": "quantitative", "scale": {"domain": [45.4, 150], "nice": false, "zero": false}, "axis": null}}},
        {"data": {"name": "levels"}, "transform": [{"filter": "datum.panel === 'D'"}],
         "mark": {"type": "point", "opacity": 0},
         "encoding": {
           "y": {"field": "mfi", "type": "quantitative", "scale": {"domain": [45.4, 150], "nice": false, "zero": false}, "axis": {"orient": "left", "values": [82.8, 58.1, 50.4], "labelExpr": "datum.value > 75 ? '[1:1]' : (datum.value > 54 ? '[1:5]' : '[Neg.]')", "title": null, "tickSize": 4, "labelPadding": 3, "labelFontSize": 11}}}}
      ],
      "resolve": {"scale": {"y": "independent"}, "axis": {"y": "independent"}}
    }
  ]
}
